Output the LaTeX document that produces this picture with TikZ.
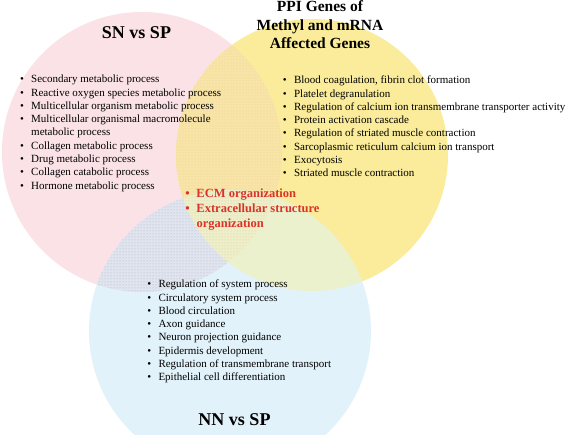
\documentclass[tikz,border=0pt]{standalone}
\usepackage{fontspec}
\setmainfont{Liberation Serif}
\usetikzlibrary{patterns}
\definecolor{pinkC}{RGB}{251,226,231}
\definecolor{yellowC}{RGB}{250,236,154}
\definecolor{blueC}{RGB}{226,242,250}
\definecolor{pyC}{RGB}{248,229,166}
\definecolor{pbC}{RGB}{224,228,238}
\definecolor{ybC}{RGB}{236,241,205}
\definecolor{pybC}{RGB}{238,238,200}
\definecolor{pyDot}{RGB}{236,200,175}
\definecolor{pbDot}{RGB}{175,180,196}
\definecolor{pybDot}{RGB}{205,205,180}
\definecolor{redT}{RGB}{218,52,40}
\newcommand\blt{\makebox[11.2pt][l]{\textbullet}}
\newcommand\bind{\hspace*{11.2pt}}
\tikzset{
  listbox/.style={anchor=base west, inner sep=0pt, font=\fontsize{11}{13.3}\selectfont},
  redbox/.style={anchor=base west, inner sep=0pt, text=redT, font=\bfseries\fontsize{12.5}{15}\selectfont},
  titlebox/.style={anchor=base, inner sep=0pt, font=\bfseries\fontsize{18}{20}\selectfont},
  subtitlebox/.style={anchor=base, inner sep=0pt, font=\bfseries\fontsize{15.5}{19.3}\selectfont}
}
\begin{document}
\begin{tikzpicture}[x=1pt,y=-1pt]
\useasboundingbox (0,0) rectangle (567,435);
\fill[white] (0,0) rectangle (567,435);
\clip (0,0) rectangle (567,435);
\coordinate (P) at (142,152);
\coordinate (Y) at (312,155);
\coordinate (B) at (230,331);
\def\RP{140pt}
\def\RY{136pt}
\def\RB{141pt}
% pure circles
\fill[pinkC] (P) circle[radius=\RP];
\fill[yellowC] (Y) circle[radius=\RY];
\fill[blueC] (B) circle[radius=\RB];
% pink-yellow
\begin{scope}
  \clip (P) circle[radius=\RP];
  \fill[pyC] (Y) circle[radius=\RY];
  \fill[pattern=dots, pattern color=pyDot] (Y) circle[radius=\RY];
\end{scope}
% pink-blue
\begin{scope}
  \clip (P) circle[radius=\RP];
  \fill[pbC] (B) circle[radius=\RB];
  \fill[pattern=dots, pattern color=pbDot] (B) circle[radius=\RB];
\end{scope}
% yellow-blue
\begin{scope}
  \clip (Y) circle[radius=\RY];
  \fill[ybC] (B) circle[radius=\RB];
\end{scope}
% triple
\begin{scope}
  \clip (P) circle[radius=\RP];
  \clip (Y) circle[radius=\RY];
  \fill[pybC] (B) circle[radius=\RB];
  \fill[pattern=dots, pattern color=pybDot] (B) circle[radius=\RB];
\end{scope}
% titles
\node[titlebox] (sntitle) at (136.5,38.5) {SN vs SP};
\node[titlebox] (nntitle) at (234.5,425.5) {NN vs SP};
\node[subtitlebox] (ppi1) at (320,11.5) {PPI Genes of};
\node[subtitlebox] (ppi2) at (320,30.5) {Methyl and mRNA};
\node[subtitlebox] (ppi3) at (320,49) {Affected Genes};
% lists
\node[listbox] (snlist) at (19.8,82.8) {\begin{tabular}[t]{@{}l@{}}
\blt Secondary metabolic process\\
\blt Reactive oxygen species metabolic process\\
\blt Multicellular organism metabolic process\\
\blt Multicellular organismal macromolecule\\
\bind metabolic process\\
\blt Collagen metabolic process\\
\blt Drug metabolic process\\
\blt Collagen catabolic process\\
\blt Hormone metabolic process
\end{tabular}};
\node[listbox] (ppilist) at (282.7,83.8) {\begin{tabular}[t]{@{}l@{}}
\blt Blood coagulation, fibrin clot formation\\
\blt Platelet degranulation\\
\blt Regulation of calcium ion transmembrane transporter activity\\
\blt Protein activation cascade\\
\blt Regulation of striated muscle contraction\\
\blt Sarcoplasmic reticulum calcium ion transport\\
\blt Exocytosis\\
\blt Striated muscle contraction
\end{tabular}};
\node[redbox] (common) at (185.1,197.5) {\begin{tabular}[t]{@{}l@{}}
\blt ECM organization\\
\blt Extracellular structure\\
\bind organization
\end{tabular}};
\node[listbox] (nnlist) at (147.1,287.8) {\begin{tabular}[t]{@{}l@{}}
\blt Regulation of system process\\
\blt Circulatory system process\\
\blt Blood circulation\\
\blt Axon guidance\\
\blt Neuron projection guidance\\
\blt Epidermis development\\
\blt Regulation of transmembrane transport\\
\blt Epithelial cell differentiation
\end{tabular}};
\end{tikzpicture}
\end{document}
